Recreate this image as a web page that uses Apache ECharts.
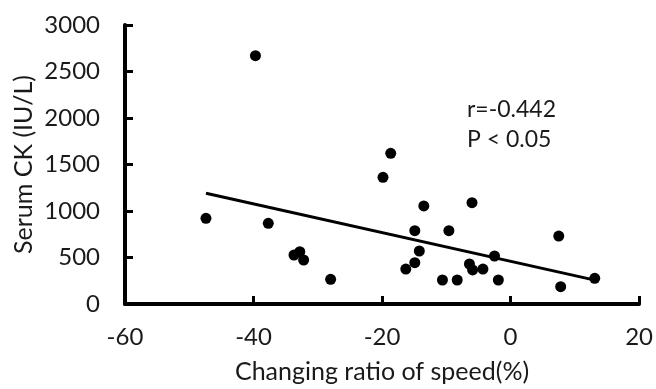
<!DOCTYPE html>
<html>
<head>
<meta charset="utf-8">
<script src="https://cdn.jsdelivr.net/npm/echarts@6/dist/echarts.min.js"></script>
<style>html,body{margin:0;padding:0;background:#fff}#c{width:656px;height:389px}</style>
</head>
<body>
<div id="c"></div>
<script>
var speedRatio = [-39.7, -47.4, -37.7, -33.7, -32.8, -32.2, -28.0, -18.65, -19.85, -13.5, -6.0, -14.9, -9.6, 7.5, -14.2, -2.5, -14.9, -16.3, -6.4, -5.9, -4.3, -10.6, -8.3, -1.9, 13.1, 7.8];
var serumCK = [2670, 921, 868, 527, 563, 473, 265, 1620, 1362, 1054, 1089, 788, 788, 731, 570, 516, 444, 376, 430, 366, 376, 258, 258, 258, 276, 186];
var fitX = [-47.4, 12.6];
var fitY = [1190, 265];
var xTicks = [-60, -40, -20, 0, 20];
var yTicks = [0, 500, 1000, 1500, 2000, 2500, 3000];
var annotation = ['r=-0.442', 'P < 0.05'];
var xTitle = 'Changing ratio of speed(%)';
var yTitle = 'Serum CK (IU/L)';

var FONT = 'Lato';
var TXT = '#1a1a1a';
var chart = echarts.init(document.getElementById('c'), null, {renderer: 'canvas'});
var pts = speedRatio.map(function (x, i) { return [x, serumCK[i]]; });
var line = fitX.map(function (x, i) { return [x, fitY[i]]; });
var axisCommon = {
  axisLine: {show: true, onZero: false, lineStyle: {color: '#000', width: 4}},
  axisTick: {show: true, inside: true, length: 8, lineStyle: {color: '#000', width: 3}},
  splitLine: {show: false},
  nameLocation: 'middle'
};
chart.setOption({
  animation: false,
  grid: {left: 125, right: 13, top: 25, bottom: 85},
  xAxis: Object.assign({}, axisCommon, {
    type: 'value', min: xTicks[0], max: xTicks[xTicks.length - 1], interval: 20,
    name: xTitle, nameGap: 55,
    nameTextStyle: {fontFamily: FONT, fontSize: 25, color: TXT},
    axisLabel: {fontFamily: FONT, fontSize: 24, color: TXT, margin: 21, formatter: function (v) { return String(v); }}
  }),
  yAxis: Object.assign({}, axisCommon, {
    type: 'value', min: yTicks[0], max: yTicks[yTicks.length - 1], interval: 500,
    axisLabel: {fontFamily: FONT, fontSize: 24, color: TXT, margin: 25, formatter: function (v) { return String(v); }}
  }),
  graphic: [{
    type: 'text', left: 467, top: 95,
    style: {text: annotation.join('\n'), fontFamily: FONT, fontSize: 23, lineHeight: 30, fill: TXT}
  }, {
    type: 'text', x: 24, y: 164.5, rotation: Math.PI / 2,
    style: {text: yTitle, fontFamily: FONT, fontSize: 25, fill: TXT, align: 'center', verticalAlign: 'middle'}
  }],
  series: [
    {type: 'scatter', data: pts, symbolSize: 11, itemStyle: {color: '#000', opacity: 1}},
    {type: 'line', data: line, symbol: 'none', lineStyle: {color: '#000', width: 3}}
  ]
});
</script>
</body>
</html>
